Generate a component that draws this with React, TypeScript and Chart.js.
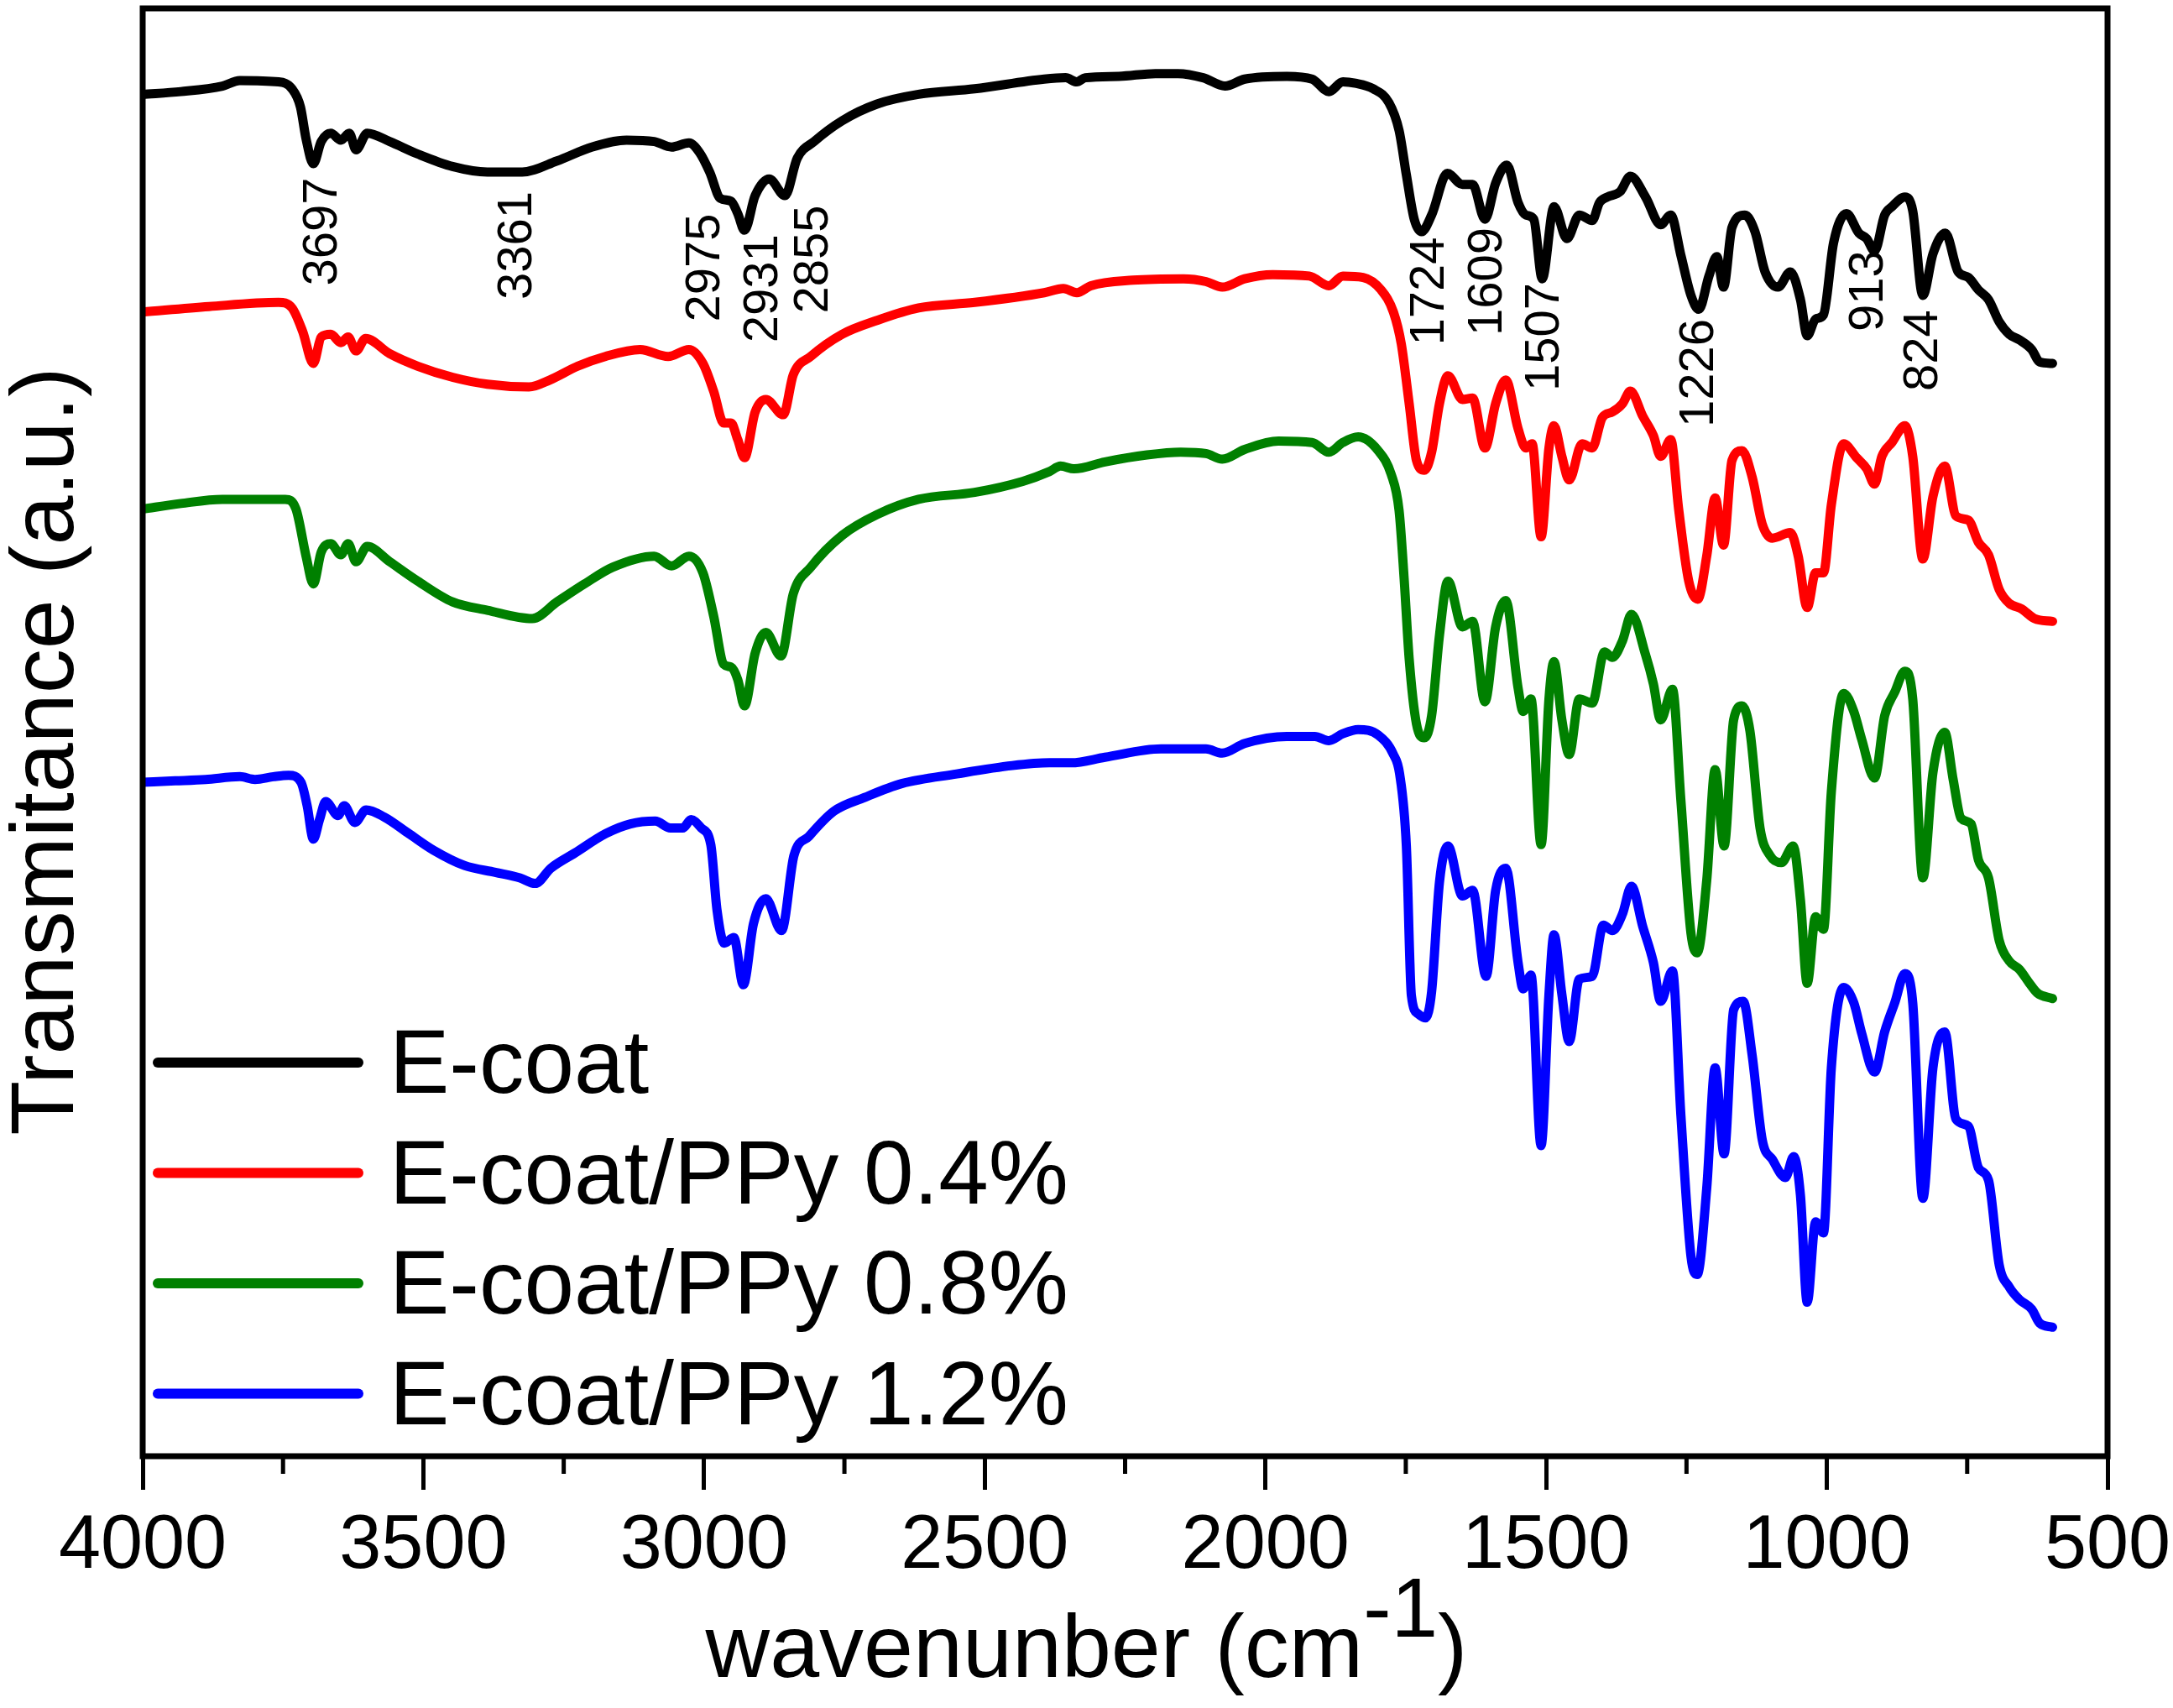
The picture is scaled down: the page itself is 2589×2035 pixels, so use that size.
import { useEffect, useRef } from 'react';
import Chart from 'chart.js/auto';

const FONT = '"Liberation Sans", Arial, sans-serif';

// FTIR spectra: wavenumber (cm-1) and transmittance (a.u., curves are offset)
const eCoatWn = [4000, 3932, 3858, 3827, 3758, 3734, 3719, 3709, 3696, 3682, 3665, 3647, 3632, 3620, 3600, 3560, 3510, 3448, 3386, 3324, 3262, 3200, 3138, 3089, 3058, 3027, 3008, 2990, 2971, 2952, 2940, 2928, 2909, 2884, 2856, 2834, 2804, 2754, 2692, 2618, 2518, 2394, 2356, 2336, 2321, 2261, 2196, 2156, 2111, 2072, 2037, 1962, 1917, 1887, 1862, 1840, 1808, 1780, 1762, 1749, 1735, 1722, 1704, 1676, 1649, 1631, 1609, 1590, 1570, 1550, 1536, 1522, 1507, 1486, 1463, 1441, 1418, 1405, 1391, 1368, 1350, 1323, 1296, 1278, 1260, 1242, 1228, 1210, 1196, 1184, 1169, 1146, 1128, 1110, 1087, 1065, 1047, 1035, 1020, 1006, 988, 965, 943, 929, 915, 897, 884, 861, 847, 829, 811, 789, 766, 748, 730, 712, 693, 675, 657, 635, 621, 598];
const eCoatT = [98.2, 98.4, 98.8, 99.2, 99.1, 98.6, 97.3, 95.0, 93.2, 94.8, 95.4, 94.9, 95.4, 94.2, 95.4, 94.8, 93.9, 93.0, 92.6, 92.6, 93.4, 94.4, 94.9, 94.8, 94.4, 94.7, 94.0, 92.6, 90.7, 90.5, 89.6, 88.4, 90.9, 92.1, 90.9, 93.6, 94.8, 96.3, 97.5, 98.2, 98.6, 99.3, 99.4, 99.1, 99.4, 99.5, 99.7, 99.7, 99.4, 98.8, 99.3, 99.5, 99.3, 98.4, 99.1, 99.0, 98.6, 97.6, 95.6, 92.4, 89.2, 88.3, 89.5, 92.5, 91.7, 91.7, 89.2, 91.8, 93.1, 90.4, 89.5, 89.2, 84.9, 90.1, 87.8, 89.5, 89.1, 90.4, 90.8, 91.2, 92.3, 90.8, 88.8, 89.5, 86.6, 83.7, 82.7, 85.1, 86.5, 84.3, 88.6, 89.5, 88.3, 85.4, 84.3, 85.4, 83.4, 80.8, 82.0, 82.3, 87.5, 89.6, 88.2, 87.8, 86.9, 89.5, 90.1, 90.8, 89.8, 83.7, 86.7, 88.2, 85.4, 85.0, 84.1, 83.4, 81.8, 80.9, 80.5, 79.8, 78.9, 78.8];

const ppy04Wn = [4000, 3882, 3758, 3734, 3715, 3696, 3682, 3665, 3647, 3634, 3620, 3603, 3560, 3510, 3448, 3386, 3312, 3275, 3225, 3176, 3114, 3064, 3027, 3002, 2983, 2965, 2952, 2940, 2928, 2909, 2890, 2859, 2841, 2810, 2754, 2692, 2618, 2518, 2394, 2360, 2336, 2311, 2236, 2146, 2106, 2077, 2037, 1987, 1922, 1887, 1862, 1826, 1794, 1772, 1758, 1744, 1731, 1717, 1704, 1690, 1675, 1649, 1631, 1609, 1590, 1572, 1550, 1536, 1525, 1509, 1495, 1486, 1472, 1459, 1436, 1418, 1400, 1382, 1364, 1350, 1328, 1309, 1296, 1278, 1264, 1246, 1230, 1214, 1199, 1184, 1169, 1151, 1133, 1115, 1097, 1065, 1051, 1035, 1020, 1006, 992, 970, 947, 929, 915, 902, 884, 861, 847, 829, 811, 790, 770, 748, 730, 712, 693, 675, 653, 630, 598];
const ppy04T = [82.5, 82.9, 83.2, 82.8, 81.1, 78.8, 80.7, 80.9, 80.3, 80.7, 79.7, 80.6, 79.5, 78.6, 77.8, 77.3, 77.1, 77.6, 78.6, 79.3, 79.8, 79.3, 79.8, 78.8, 76.8, 74.5, 74.5, 73.3, 72.0, 75.3, 76.2, 75.1, 78.0, 79.3, 80.9, 81.9, 82.8, 83.2, 83.9, 84.2, 83.9, 84.4, 84.8, 84.9, 84.7, 84.3, 84.9, 85.2, 85.1, 84.4, 85.1, 85.0, 84.1, 82.5, 80.2, 75.9, 71.8, 71.1, 72.4, 75.9, 77.9, 76.2, 76.3, 72.7, 75.9, 77.6, 74.1, 72.7, 73.0, 66.3, 72.7, 74.3, 72.1, 70.4, 73.0, 72.7, 74.9, 75.3, 75.9, 76.8, 75.0, 73.6, 72.1, 73.3, 68.3, 63.1, 61.8, 64.9, 69.1, 65.7, 71.8, 72.5, 70.6, 67.2, 66.2, 66.6, 64.9, 61.2, 63.7, 63.7, 68.6, 73.0, 72.0, 71.2, 70.1, 72.1, 73.1, 74.3, 72.1, 64.7, 69.2, 71.4, 67.8, 67.5, 65.9, 65.0, 62.5, 61.5, 61.1, 60.4, 60.2];

const ppy08Wn = [4000, 3932, 3858, 3746, 3727, 3709, 3696, 3682, 3665, 3647, 3634, 3620, 3600, 3560, 3510, 3448, 3386, 3306, 3262, 3213, 3163, 3089, 3058, 3027, 3002, 2983, 2965, 2952, 2940, 2928, 2909, 2890, 2863, 2841, 2810, 2754, 2692, 2618, 2518, 2432, 2385, 2365, 2341, 2286, 2211, 2151, 2106, 2077, 2037, 1977, 1917, 1887, 1862, 1835, 1799, 1776, 1762, 1753, 1744, 1731, 1717, 1704, 1690, 1675, 1649, 1631, 1609, 1590, 1572, 1550, 1541, 1527, 1509, 1495, 1486, 1472, 1459, 1441, 1418, 1396, 1382, 1364, 1348, 1323, 1309, 1296, 1275, 1260, 1242, 1231, 1214, 1199, 1183, 1166, 1151, 1137, 1119, 1101, 1081, 1060, 1047, 1035, 1020, 1006, 992, 970, 952, 938, 915, 897, 879, 861, 847, 829, 811, 790, 775, 761, 743, 730, 712, 693, 675, 657, 639, 625, 598];
const ppy08T = [68.3, 68.7, 69.0, 69.0, 68.3, 64.9, 62.9, 65.2, 65.8, 65.0, 65.8, 64.5, 65.6, 64.5, 63.1, 61.6, 61.0, 60.4, 61.6, 62.9, 64.1, 64.9, 64.2, 64.9, 63.7, 60.6, 57.1, 56.9, 56.0, 54.1, 57.9, 59.4, 57.7, 62.2, 64.1, 66.4, 67.9, 69.0, 69.5, 70.3, 71.0, 71.4, 71.2, 71.7, 72.2, 72.4, 72.3, 71.9, 72.6, 73.2, 73.1, 72.4, 73.1, 73.5, 72.5, 70.8, 68.2, 63.3, 57.5, 52.8, 51.8, 53.4, 59.2, 63.1, 59.8, 60.2, 54.4, 59.8, 61.7, 55.4, 53.7, 54.6, 44.1, 54.6, 57.3, 53.1, 50.6, 54.6, 54.3, 58.0, 57.6, 58.8, 60.7, 57.8, 55.7, 53.1, 55.3, 47.3, 37.7, 36.3, 41.5, 49.5, 44.0, 53.1, 54.1, 52.3, 45.3, 43.3, 42.8, 44.0, 40.1, 34.1, 38.9, 38.0, 47.9, 55.0, 53.7, 51.7, 48.9, 53.4, 55.1, 56.6, 54.6, 41.7, 49.3, 52.2, 48.8, 46.0, 45.6, 43.0, 41.7, 37.2, 35.7, 35.1, 34.1, 33.4, 33.0];

const ppy12Wn = [4000, 3942, 3888, 3827, 3800, 3767, 3740, 3718, 3707, 3696, 3685, 3674, 3652, 3641, 3622, 3602, 3570, 3526, 3482, 3427, 3372, 3328, 3301, 3273, 3230, 3175, 3131, 3087, 3060, 3038, 3023, 3005, 2988, 2977, 2964, 2947, 2930, 2912, 2890, 2862, 2840, 2813, 2769, 2714, 2648, 2550, 2451, 2385, 2346, 2286, 2186, 2106, 2077, 2037, 1962, 1912, 1887, 1862, 1835, 1799, 1772, 1761, 1749, 1740, 1728, 1715, 1704, 1690, 1675, 1649, 1631, 1607, 1590, 1572, 1550, 1541, 1527, 1509, 1495, 1486, 1472, 1459, 1441, 1418, 1398, 1382, 1364, 1348, 1328, 1309, 1296, 1275, 1260, 1242, 1231, 1214, 1199, 1183, 1166, 1149, 1133, 1115, 1097, 1074, 1059, 1047, 1035, 1020, 1006, 992, 970, 952, 938, 915, 897, 879, 861, 847, 829, 811, 790, 770, 748, 730, 712, 693, 675, 657, 635, 621, 598];
const ppy12T = [48.6, 48.7, 48.8, 49.0, 48.8, 49.0, 49.1, 48.6, 46.9, 44.5, 45.9, 47.2, 46.2, 46.9, 45.7, 46.6, 46.1, 44.9, 43.7, 42.6, 42.1, 41.7, 41.3, 42.4, 43.5, 44.9, 45.6, 45.8, 45.3, 45.3, 45.9, 45.3, 44.1, 39.4, 37.0, 37.4, 34.0, 38.4, 40.2, 37.9, 43.3, 44.7, 46.5, 47.5, 48.5, 49.2, 49.8, 50.0, 50.0, 50.4, 51.0, 51.0, 50.7, 51.4, 51.9, 51.9, 51.6, 52.1, 52.4, 52.0, 50.6, 49.2, 44.0, 33.2, 31.9, 31.6, 33.5, 41.4, 44.0, 40.4, 40.8, 34.6, 40.8, 42.4, 35.6, 33.7, 34.7, 22.4, 33.3, 37.6, 33.3, 29.9, 34.4, 34.6, 38.3, 37.9, 39.1, 41.1, 38.2, 35.6, 32.8, 35.0, 24.6, 14.4, 13.1, 19.3, 28.0, 21.8, 32.2, 32.8, 28.9, 22.8, 21.4, 20.1, 21.6, 18.8, 11.1, 16.9, 16.1, 28.0, 33.8, 32.7, 30.5, 27.7, 30.6, 32.7, 34.8, 32.7, 18.6, 28.0, 30.6, 24.3, 23.8, 20.8, 19.9, 13.8, 12.2, 11.3, 10.6, 9.6, 9.3];

const seriesLabels = ['E-coat', 'E-coat/PPy 0.4%', 'E-coat/PPy 0.8%', 'E-coat/PPy 1.2%'];
const seriesColors = ['#000000', '#ff0000', '#008000', '#0000ff'];
const seriesWn = [eCoatWn, ppy04Wn, ppy08Wn, ppy12Wn];
const seriesT = [eCoatT, ppy04T, ppy08T, ppy12T];

// peak labels: text, wavenumber of the label centre, transmittance at the label's lower end
const peakLabels = ['3697', '3361', '2975', '2931', '2855', '1724', '1609', '1507', '1226', '913', '824'];
const peakWn = [3679, 3331, 2997, 2893, 2804, 1706, 1604, 1502, 1226, 924, 827];
const peakT = [84.4, 83.4, 81.8, 80.3, 82.4, 80.1, 80.8, 76.8, 74.2, 81.1, 76.8];

const minorTicks = [3750, 3250, 2750, 2250, 1750, 1250, 750];

const decorations = {
  id: 'decorations',
  afterDraw(chart: any) {
    const { ctx, chartArea: a, scales } = chart;
    const xs = scales.x;
    const ys = scales.y;
    ctx.save();
    ctx.strokeStyle = '#000';
    ctx.fillStyle = '#000';

    // minor ticks
    ctx.lineWidth = 5;
    minorTicks.forEach((v) => {
      const px = xs.getPixelForValue(v);
      ctx.beginPath();
      ctx.moveTo(px, a.bottom);
      ctx.lineTo(px, a.bottom + 21);
      ctx.stroke();
    });

    // frame
    ctx.lineWidth = 7;
    ctx.strokeRect(a.left, a.top, a.right - a.left, a.bottom - a.top);

    // peak labels
    ctx.font = `58px ${FONT}`;
    ctx.textAlign = 'left';
    ctx.textBaseline = 'middle';
    peakLabels.forEach((t, i) => {
      ctx.save();
      ctx.translate(xs.getPixelForValue(peakWn[i]), ys.getPixelForValue(peakT[i]));
      ctx.rotate(-Math.PI / 2);
      ctx.fillText(t, 0, 0);
      ctx.restore();
    });

    // legend inside the plot
    chart.data.datasets.forEach((ds: any, i: number) => {
      const ly = a.bottom - 469 + i * 131.5;
      ctx.strokeStyle = ds.borderColor;
      ctx.lineWidth = 12;
      ctx.lineCap = 'round';
      ctx.beginPath();
      ctx.moveTo(a.left + 18, ly);
      ctx.lineTo(a.left + 257, ly);
      ctx.stroke();
      ctx.font = `107px ${FONT}`;
      ctx.textAlign = 'left';
      ctx.textBaseline = 'alphabetic';
      ctx.fillText(ds.label, a.left + 294, ly + 36);
    });

    // y title
    ctx.save();
    ctx.translate(87, 895);
    ctx.rotate(-Math.PI / 2);
    ctx.font = `106px ${FONT}`;
    ctx.textAlign = 'center';
    ctx.textBaseline = 'alphabetic';
    ctx.fillText('Transmitance (a.u.)', 0, 0);
    ctx.restore();

    // x title with superscript
    ctx.textAlign = 'left';
    ctx.textBaseline = 'alphabetic';
    const main = 'wavenunber (cm';
    ctx.font = `106px ${FONT}`;
    const w1 = ctx.measureText(main).width;
    const w3 = ctx.measureText(')').width;
    ctx.font = `100px ${FONT}`;
    const w2 = ctx.measureText('-1').width;
    const total = w1 + w2 + w3;
    let tx = (a.left + a.right) / 2 - total / 2 - 46;
    const base = 1998;
    ctx.font = `106px ${FONT}`;
    ctx.fillText(main, tx, base);
    tx += w1;
    ctx.font = `100px ${FONT}`;
    ctx.fillText('-1', tx, base - 48);
    tx += w2;
    ctx.font = `106px ${FONT}`;
    ctx.fillText(')', tx, base);

    ctx.restore();
  },
};

function FtirChart() {
  const canvasRef = useRef<HTMLCanvasElement>(null);
  const chartRef = useRef<Chart | null>(null);

  useEffect(() => {
    document.body.style.margin = '0';
    if (!canvasRef.current) return;
    if (chartRef.current) chartRef.current.destroy();

    const datasets = seriesLabels.map((label, i) => ({
      label,
      data: seriesWn[i].map((x, j) => ({ x, y: seriesT[i][j] })),
      borderColor: seriesColors[i],
      backgroundColor: seriesColors[i],
      borderWidth: 11,
      pointRadius: 0,
      fill: false,
      cubicInterpolationMode: 'monotone' as const,
      borderJoinStyle: 'round' as const,
      borderCapStyle: 'round' as const,
    }));

    chartRef.current = new Chart(canvasRef.current, {
      type: 'line',
      data: { datasets },
      options: {
        animation: false,
        responsive: false,
        devicePixelRatio: 1,
        layout: { padding: { left: 170, right: 78, top: 10, bottom: 0 } },
        plugins: {
          legend: { display: false },
          tooltip: { enabled: false },
        },
        scales: {
          x: {
            type: 'linear',
            reverse: true,
            min: 500,
            max: 4000,
            afterFit: (scale: any) => {
              scale.height = 300;
              scale.paddingLeft = 0;
              scale.paddingRight = 0;
            },
            border: { display: false },
            grid: {
              display: true,
              drawOnChartArea: false,
              drawTicks: true,
              tickLength: 40,
              tickWidth: 5,
              tickColor: '#000',
            },
            ticks: {
              stepSize: 500,
              autoSkip: false,
              maxRotation: 0,
              padding: 14,
              color: '#000',
              font: { family: FONT, size: 90 },
              callback: (v: any) => String(v),
            },
          },
          y: {
            display: false,
            min: 0,
            max: 104.4,
          },
        },
      },
      plugins: [decorations],
    });

    return () => {
      if (chartRef.current) {
        chartRef.current.destroy();
        chartRef.current = null;
      }
    };
  }, []);

  return (
    <div style={{ width: '2589px', height: '2035px', background: '#fff' }}>
      <canvas ref={canvasRef} width={2589} height={2035} style={{ display: 'block' }} />
    </div>
  );
}

export default function App() {
  return <FtirChart />;
}
